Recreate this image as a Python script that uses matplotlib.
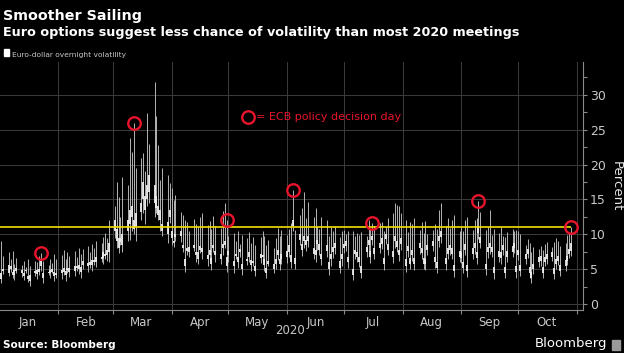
import numpy as np
import pandas as pd
import matplotlib
matplotlib.use('Agg')
import matplotlib.pyplot as plt
import matplotlib.dates as mdates
from matplotlib import font_manager
from matplotlib.patches import Rectangle
from matplotlib.lines import Line2D

# trading days shown on the chart
days = pd.bdate_range('2020-01-02', '2020-10-29')

# Euro-dollar overnight volatility, daily bars (percent)
high = [
    9.1, 6.9, 7.5, 6.4, 7.6, 5.7, 6.6, 5.6, 6.2, 5.3, 6.4, 5.5, 6.1, 6.0, 6.9, 7.3, 6.2, 5.6, 6.5, 5.9, 7.2, 6.4,  # Jan
    7.0, 7.8, 6.5, 7.4, 6.9, 7.6, 6.8, 8.0, 7.2, 7.9, 8.3, 7.5, 8.6, 8.1, 9.0, 8.8, 9.6, 10.2, 9.5, 12.0,  # Feb
    14.0, 17.5, 15.4, 12.5, 18.2, 17.0, 23.8, 21.8, 26.0, 19.5, 21.0, 21.6, 19.0, 27.4, 23.0, 31.8, 27.0, 22.8, 17.8, 19.5, 18.5, 17.4,  # Mar
    16.6, 14.9, 15.6, 13.2, 12.8, 12.1, 11.8, 10.5, 12.2, 11.5, 11.0, 12.5, 13.0, 11.3, 11.9, 10.8, 12.6, 11.2, 10.9, 13.4, 14.5, 12.1,  # Apr
    9.8, 10.2, 9.0, 10.5, 8.6, 9.9, 9.4, 10.3, 8.8, 9.6, 8.5, 9.6, 10.4, 9.8, 8.5, 9.2, 8.0, 9.5, 10.9, 9.7, 10.6,  # May
    9.9, 10.8, 11.6, 16.4, 10.6, 12.8, 13.8, 16.1, 12.4, 14.6, 12.5, 13.8, 11.0, 10.8, 12.5, 12.0, 9.7, 11.0, 10.4, 11.2, 9.6, 10.4,  # Jun
    10.6, 10.0, 10.4, 10.5, 9.7, 10.2, 9.9, 10.3, 9.8, 12.1, 10.8, 11.6, 11.2, 11.6, 11.8, 10.5, 11.0, 12.3, 13.0, 14.5, 14.2, 14.0, 13.1,  # Jul
    12.1, 10.3, 11.8, 11.4, 12.3, 10.6, 11.8, 10.2, 11.9, 10.0, 10.6, 11.5, 10.8, 13.5, 14.5, 11.2, 12.3, 10.9, 12.0, 12.8, 10.5,  # Aug
    11.1, 10.4, 12.1, 12.5, 10.6, 12.0, 12.3, 14.7, 13.2, 10.6, 11.0, 13.5, 9.9, 10.8, 10.2, 11.0, 9.8, 9.6, 10.3, 10.8, 10.4, 10.6,  # Sep
    10.5, 10.0, 8.5, 9.3, 8.8, 7.5, 8.2, 7.9, 8.3, 7.7, 8.6, 8.9, 8.2, 8.9, 9.5, 9.0, 8.3, 8.8, 9.9, 10.2, 11.1,  # Oct
]
low = [
    3.0, 4.3, 4.0, 4.6, 3.8, 3.4, 4.4, 3.9, 3.5, 4.5, 3.2, 2.6, 4.0, 3.6, 4.2, 4.8, 3.0, 4.1, 3.7, 4.4, 3.3, 3.8,
    3.6, 4.2, 3.3, 4.5, 3.9, 4.0, 4.8, 4.3, 3.8, 5.0, 4.6, 5.2, 4.8, 5.6, 5.3, 6.0, 5.7, 6.5, 6.2, 6.0,
    9.5, 8.0, 7.3, 8.5, 7.5, 9.0, 9.2, 10.5, 10.0, 9.0, 12.0, 13.0, 11.5, 14.0, 14.5, 12.5, 13.0, 12.0, 10.5, 9.8, 8.8, 11.6,
    8.5, 8.2, 9.0, 8.9, 7.5, 4.6, 7.0, 6.8, 7.6, 6.0, 5.8, 7.3, 6.5, 5.5, 6.2, 4.9, 7.5, 6.0, 5.7, 7.0, 8.0, 4.6,
    6.0, 4.5, 6.4, 5.2, 6.8, 4.2, 5.6, 6.0, 4.8, 5.5, 4.0, 5.9, 6.2, 4.8, 3.7, 5.4, 4.4, 5.0, 6.3, 4.9, 5.8,
    5.9, 6.8, 5.2, 10.5, 5.0, 8.5, 6.9, 8.0, 7.6, 8.2, 6.4, 6.0, 7.8, 7.0, 5.6, 6.8, 4.2, 5.5, 6.6, 7.2, 4.4, 5.5,
    7.3, 7.6, 5.2, 3.4, 6.5, 6.0, 5.3, 3.7, 6.8, 7.6, 5.9, 8.4, 6.4, 7.3, 7.9, 4.9, 8.6, 7.0, 5.9, 8.0, 7.4, 6.2, 7.8,
    4.6, 6.8, 5.0, 6.2, 4.9, 7.2, 6.5, 5.0, 4.9, 7.0, 7.6, 5.2, 4.4, 8.2, 8.8, 4.9, 6.5, 7.0, 6.5, 3.9, 6.0,
    5.9, 4.4, 7.0, 3.9, 6.5, 7.2, 5.8, 9.3, 8.0, 4.2, 6.6, 7.2, 6.8, 3.6, 6.0, 5.8, 7.0, 3.7, 6.0, 6.8, 7.3, 3.7,
    6.3, 4.0, 5.8, 6.6, 3.7, 3.0, 4.3, 5.3, 5.5, 3.7, 5.4, 5.8, 6.1, 3.6, 5.0, 5.6, 4.0, 4.8, 5.6, 6.6, 6.9,
]
open_ = [
    4.5, 5.0, 5.6, 5.0, 4.6, 4.2, 5.2, 4.4, 4.0, 4.9, 4.0, 3.3, 4.8, 4.3, 5.0, 5.4, 3.8, 4.6, 4.4, 5.0, 4.0, 4.5,
    4.4, 5.1, 4.2, 5.2, 4.6, 4.8, 5.5, 5.0, 4.6, 5.6, 5.4, 6.0, 5.6, 6.3, 6.0, 6.8, 6.6, 7.2, 7.0, 7.5,
    10.5, 9.0, 8.0, 9.5, 8.5, 10.5, 11.5, 12.5, 12.0, 11.0, 14.5, 15.0, 13.5, 17.0, 16.0, 14.5, 15.5, 14.0, 12.0, 11.5, 10.0, 12.5,
    9.5, 9.0, 10.0, 9.8, 8.5, 5.5, 8.0, 7.5, 8.5, 7.0, 6.5, 8.3, 7.4, 6.4, 7.0, 5.8, 8.5, 7.0, 6.5, 8.0, 9.0, 5.5,
    7.0, 5.5, 7.2, 6.0, 7.4, 5.0, 6.5, 6.8, 5.6, 6.2, 4.8, 6.6, 7.0, 5.6, 4.5, 6.2, 5.0, 5.8, 7.0, 5.8, 6.5,
    6.8, 7.5, 6.0, 11.2, 5.8, 9.2, 7.8, 9.0, 8.5, 9.0, 7.2, 7.0, 8.6, 7.8, 6.5, 7.6, 5.0, 6.4, 7.4, 8.0, 5.2, 6.4,
    8.0, 8.3, 6.0, 4.2, 7.2, 6.8, 6.0, 4.5, 7.5, 8.5, 6.8, 9.2, 7.2, 8.0, 8.6, 5.8, 9.3, 7.8, 6.8, 9.0, 8.2, 7.0, 8.6,
    5.5, 7.6, 5.8, 7.0, 5.8, 8.0, 7.3, 5.8, 5.7, 7.8, 8.3, 6.0, 5.2, 9.0, 9.6, 5.8, 7.2, 7.8, 7.2, 4.8, 6.8,
    6.6, 5.2, 7.8, 4.8, 7.2, 8.0, 6.6, 10.2, 8.8, 5.0, 7.4, 8.0, 7.5, 4.5, 6.8, 6.6, 7.8, 4.5, 6.8, 7.5, 8.0, 4.6,
    7.0, 4.8, 6.5, 7.2, 4.5, 3.8, 5.0, 6.0, 6.2, 4.5, 6.0, 6.4, 6.8, 4.3, 5.8, 6.2, 4.8, 5.5, 6.2, 7.2, 7.6,
]
close = [
    3.6, 4.8, 4.5, 5.5, 4.1, 4.9, 4.8, 4.9, 4.5, 4.7, 3.6, 4.2, 4.4, 4.9, 4.6, 6.2, 4.4, 4.4, 4.9, 4.6, 4.6, 4.1,
    4.9, 4.6, 4.8, 4.9, 5.2, 5.4, 5.1, 5.6, 5.3, 6.1, 5.9, 5.6, 6.3, 6.0, 6.8, 6.4, 7.4, 6.9, 7.8, 8.8,
    12.0, 10.8, 9.5, 8.9, 10.0, 12.0, 13.5, 14.0, 10.8, 13.0, 13.2, 17.5, 15.5, 15.0, 18.5, 17.0, 13.8, 12.8, 13.5, 10.5, 11.8, 13.5,
    10.5, 8.7, 9.6, 10.5, 8.0, 6.5, 7.6, 8.2, 8.0, 7.5, 7.4, 7.8, 8.0, 7.0, 7.8, 6.6, 8.0, 7.6, 7.2, 8.6, 8.5, 6.8,
    7.6, 6.2, 6.9, 6.8, 7.9, 5.8, 6.1, 7.5, 6.3, 5.9, 5.5, 7.2, 6.7, 6.4, 5.2, 5.8, 5.7, 6.5, 7.8, 6.5, 7.2,
    7.6, 8.4, 7.0, 12.0, 6.6, 10.0, 8.6, 9.8, 9.2, 9.8, 8.0, 7.8, 9.2, 8.6, 7.2, 8.4, 6.0, 7.2, 8.2, 8.7, 6.1, 7.2,
    8.6, 9.0, 6.8, 5.0, 7.8, 7.5, 6.8, 5.4, 8.2, 9.2, 7.6, 9.8, 8.0, 8.7, 9.4, 6.6, 10.0, 8.6, 7.6, 9.8, 9.0, 7.8, 9.4,
    6.4, 8.3, 6.6, 7.8, 6.6, 8.8, 8.0, 6.6, 6.5, 8.5, 9.0, 6.8, 6.0, 9.8, 10.4, 6.6, 8.0, 8.5, 8.0, 5.6, 7.6,
    7.4, 6.0, 8.6, 5.6, 8.0, 8.8, 7.4, 11.2, 9.6, 5.8, 8.2, 8.8, 8.2, 5.3, 7.6, 7.4, 8.5, 5.3, 7.6, 8.3, 8.8, 5.4,
    7.8, 5.6, 7.2, 7.9, 5.3, 4.6, 5.7, 6.7, 6.9, 5.3, 6.7, 7.1, 7.4, 5.1, 6.5, 6.9, 5.6, 6.3, 6.9, 7.9, 8.8,
]

ecb_days = ['2020-01-23', '2020-03-12', '2020-04-30', '2020-06-04',
            '2020-07-16', '2020-09-10', '2020-10-29']
current_level = 11.1
month_labels = ['Jan', 'Feb', 'Mar', 'Apr', 'May', 'Jun', 'Jul', 'Aug', 'Sep', 'Oct']

assert len(days) == len(high) == len(low) == len(open_) == len(close)

# fonts
names = {f.name for f in font_manager.fontManager.ttflist}
narrow = 'Liberation Sans Narrow' if 'Liberation Sans Narrow' in names else 'DejaVu Sans'

bg = 'black'
red = '#e8142c'
yellow = '#f0e000'
grid_col = '#3c3c3c'
lbl_col = '#c8c8c8'

fig = plt.figure(figsize=(6.24, 3.53), dpi=100, facecolor=bg)
ax = fig.add_axes([0, 1 - 310 / 353, 583 / 624, 248 / 353])
ax.set_facecolor(bg)

x = mdates.date2num(days)
body_lo = np.minimum(open_, close)
body_hi = np.maximum(open_, close)
ax.vlines(x, low, high, color='#b4b4b4', lw=0.7, zorder=3)
ax.vlines(x, body_lo, body_hi, color='#f0f0f0', lw=1.3, zorder=4)

# current level line, up to the last bar
x0 = mdates.date2num(pd.Timestamp('2020-01-01 09:00'))
x1 = mdates.date2num(pd.Timestamp('2020-11-04 05:00'))
ax.hlines(current_level, x0, x[-1], color=yellow, lw=1.2, zorder=5)

# ECB meeting days
ecb_x = mdates.date2num(pd.to_datetime(ecb_days))
ecb_y = [high[days.get_loc(pd.Timestamp(d))] for d in ecb_days]
ax.plot(ecb_x, ecb_y, 'o', mfc='none', mec=red, ms=9, mew=1.7, zorder=6)

ax.set_xlim(x0, x1)
ax.set_ylim(-0.86, 34.7)

# month grid + ticks
month_starts = pd.date_range('2020-02-01', '2020-11-01', freq='MS')
ax.set_xticks(mdates.date2num(month_starts))
ax.set_xticklabels([])
mids = pd.date_range('2020-01-01', '2020-10-01', freq='MS') + pd.Timedelta(days=15)
ax.set_xticks(mdates.date2num(mids), minor=True)
ax.set_xticklabels(month_labels, minor=True, color=lbl_col, fontsize=8.5, family=narrow)
ax.tick_params(axis='x', which='major', length=3, color='#8a8a8a', width=0.8)
ax.tick_params(axis='x', which='minor', length=0, pad=4)
for m in month_starts:
    ax.axvline(mdates.date2num(m), color=grid_col, lw=0.7, zorder=1)

ax.yaxis.tick_right()
ax.set_yticks(np.arange(0, 31, 5))
ax.set_yticks(np.arange(2.5, 33, 5), minor=True)
ax.tick_params(axis='y', which='both', length=3, color='#8a8a8a', width=0.8,
               labelcolor=lbl_col, labelsize=9, pad=2)
for lab in ax.get_yticklabels():
    lab.set_family(narrow)
for v in np.arange(0, 31, 5):
    ax.axhline(v, color=grid_col, lw=0.7, zorder=1)

for s in ['top', 'left']:
    ax.spines[s].set_visible(False)
ax.spines['bottom'].set_color('#8a8a8a')
ax.spines['right'].set_color('#8a8a8a')
ax.spines['bottom'].set_linewidth(0.8)
ax.spines['right'].set_linewidth(0.8)

ax.set_ylabel('Percent', rotation=270, color='#e6e6e6', fontsize=9.5, labelpad=12)
ax.yaxis.set_label_position('right')

# texts
fig.text(3 / 624, 1 - 20 / 353, 'Smoother Sailing', color='white', fontsize=10.3,
         fontweight='bold', va='baseline')
fig.text(3 / 624, 1 - 36 / 353, 'Euro options suggest less chance of volatility than most 2020 meetings',
         color='white', fontsize=9.2, fontweight='bold', va='baseline')
fig.patches.append(Rectangle((4 / 624, 1 - 56 / 353), 5 / 624, 7 / 353, color='white',
                             transform=fig.transFigure, figure=fig))
fig.text(12 / 624, 1 - 56.5 / 353, 'Euro-dollar overnight volatility', color=lbl_col,
         fontsize=5.4, family=narrow, va='baseline')

fig.add_artist(Line2D([248 / 624], [1 - 117 / 353], marker='o', mfc='none', mec=red,
                      ms=9, mew=1.7, transform=fig.transFigure))
fig.text(256 / 624, 1 - 117 / 353, '= ECB policy decision day', color=red, fontsize=8.0,
         family=narrow, va='center')

fig.text(290 / 624, 1 - 330 / 353, '2020', color=lbl_col, fontsize=8.5, family=narrow,
         ha='center', va='center')
fig.text(3 / 624, 1 - 345 / 353, 'Source: Bloomberg', color='white', fontsize=7.5,
         fontweight='bold', va='center')
fig.text(607 / 624, 1 - 344 / 353, 'Bloomberg', color='white', fontsize=9.5,
         ha='right', va='center')
fig.patches.append(Rectangle((612 / 624, 1 - 350 / 353), 8 / 624, 10 / 353, color='#9a9a9a',
                             transform=fig.transFigure, figure=fig))

fig.savefig('out.png', dpi=100, facecolor=bg)
